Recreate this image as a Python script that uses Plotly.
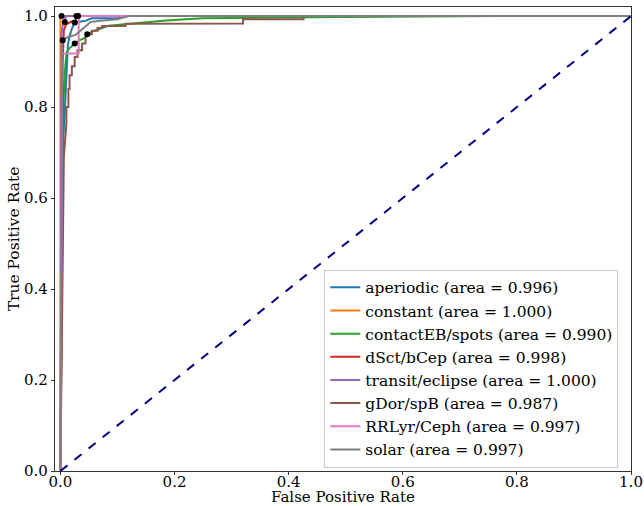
import plotly.graph_objects as go

classes = ["aperiodic", "constant", "contactEB/spots", "dSct/bCep",
           "transit/eclipse", "gDor/spB", "RRLyr/Ceph", "solar"]
areas = [0.996, 1.000, 0.990, 0.998, 1.000, 0.987, 0.997, 0.997]
colors = ["#1f77b4", "#ff7f0e", "#2ca02c", "#d62728",
          "#9467bd", "#8c564b", "#e377c2", "#7f7f7f"]

fpr_aperiodic = [0, 0.002, 0.008, 0.010, 0.012, 0.013, 0.016, 0.020, 0.025, 0.035, 0.045, 0.055, 0.10, 0.11, 1.0]
tpr_aperiodic = [0, 0.66, 0.80, 0.85, 0.90, 0.935, 0.955, 0.972, 0.986, 0.988, 0.990, 0.995, 0.995, 1.0, 1.0]

fpr_constant = [0, 0, 1.0]
tpr_constant = [0, 1.0, 1.0]

fpr_contact = [0, 0.002, 0.004, 0.005, 0.008, 0.0105, 0.015, 0.020, 0.025, 0.030, 0.035, 0.040, 0.045,
               0.050, 0.055, 0.062, 0.070, 0.084, 0.10, 0.12, 0.143, 0.18, 0.22, 0.25, 0.30, 0.36, 0.50, 0.77, 1.0]
tpr_contact = [0, 0.30, 0.60, 0.80, 0.88, 0.92, 0.928, 0.935, 0.940, 0.944, 0.948, 0.950, 0.955,
               0.960, 0.966, 0.969, 0.972, 0.979, 0.981, 0.983, 0.985, 0.990, 0.993, 0.995, 0.996, 0.997, 0.998, 1.0, 1.0]

fpr_dsct = [0, 0.003, 0.004, 0.005, 0.006, 0.010, 0.013, 0.018, 0.020, 0.027, 0.028, 1.0]
tpr_dsct = [0, 0.50, 0.90, 0.95, 0.969, 0.982, 0.984, 0.986, 0.988, 0.990, 1.0, 1.0]

fpr_transit = [0, 0.002, 0.004, 0.010, 1.0]
tpr_transit = [0, 0.96, 0.98, 1.0, 1.0]

fpr_gdor = [0, 0.002, 0.004, 0.006, 0.0105, 0.0105, 0.014, 0.014, 0.016, 0.016, 0.020, 0.020, 0.025, 0.025,
            0.030, 0.030, 0.038, 0.038, 0.044, 0.044, 0.047, 0.055, 0.055, 0.065, 0.065, 0.073, 0.073,
            0.114, 0.114, 0.20, 0.32, 0.32, 0.426, 0.426, 1.0]
tpr_gdor = [0, 0.22, 0.50, 0.69, 0.765, 0.80, 0.80, 0.84, 0.84, 0.87, 0.87, 0.89, 0.89, 0.91,
            0.91, 0.925, 0.925, 0.940, 0.940, 0.952, 0.960, 0.960, 0.968, 0.968, 0.974, 0.974, 0.978,
            0.978, 0.983, 0.984, 0.984, 0.993, 0.993, 1.0, 1.0]

fpr_rrlyr = [0, 0.003, 0.032, 0.032, 1.0]
tpr_rrlyr = [0, 0.918, 0.918, 1.0, 1.0]

fpr_solar = [0, 0.003, 0.015, 0.026, 0.035, 0.044, 0.053, 0.07, 0.10, 0.12, 1.0]
tpr_solar = [0, 0.947, 0.955, 0.958, 0.968, 0.977, 0.987, 0.990, 0.993, 1.0, 1.0]

fprs = [fpr_aperiodic, fpr_constant, fpr_contact, fpr_dsct, fpr_transit, fpr_gdor, fpr_rrlyr, fpr_solar]
tprs = [tpr_aperiodic, tpr_constant, tpr_contact, tpr_dsct, tpr_transit, tpr_gdor, tpr_rrlyr, tpr_solar]

# operating points (black dots)
dot_fpr = [0.025, 0.002, 0.025, 0.028, 0.0076, 0.047, 0.031, 0.004]
dot_tpr = [0.986, 1.0, 0.940, 1.0, 0.987, 0.960, 1.0, 0.947]

chance = [0.0, 1.0]

x_title = "False Positive Rate"
y_title = "True Positive Rate"

FONT = "DejaVu Serif"

fig = go.Figure()
for name, area, col, fx, ty in zip(classes, areas, colors, fprs, tprs):
    fig.add_trace(go.Scatter(x=fx, y=ty, mode="lines",
                             line=dict(color=col, width=2),
                             name=f"{name} (area = {area:.3f})"))

fig.add_trace(go.Scatter(x=chance, y=chance, mode="lines",
                         line=dict(color="navy", width=2, dash="dash"),
                         showlegend=False))
fig.add_trace(go.Scatter(x=dot_fpr, y=dot_tpr, mode="markers",
                         marker=dict(color="black", size=6),
                         showlegend=False))

axis_common = dict(showline=True, linecolor="#333333", linewidth=1.3, mirror=True,
                   ticks="outside", ticklen=3, tickcolor="#333333", showgrid=False,
                   zeroline=False, tickformat=".1f", automargin=False,
                   tickfont=dict(family=FONT, size=15, color="black"))

fig.add_annotation(text=x_title, xref="paper", yref="paper", x=0.5, y=-0.055,
                   xanchor="center", yanchor="middle", showarrow=False,
                   font=dict(family=FONT, size=15, color="black"))

fig.update_layout(
    width=644, height=506,
    margin=dict(l=55, r=13, t=7, b=35),
    paper_bgcolor="white", plot_bgcolor="white",
    font=dict(family=FONT, size=15, color="black"),
    xaxis=dict(range=[-0.0095, 1.0], dtick=0.2, ticklabelstandoff=-6, **axis_common),
    yaxis=dict(range=[0.0, 1.02], dtick=0.2,
               title=dict(text=y_title, font=dict(family=FONT, size=15.5), standoff=0),
               **axis_common),
    legend=dict(x=0.978, y=0.007, xanchor="right", yanchor="bottom",
                bgcolor="rgba(255,255,255,0.8)", bordercolor="#cccccc", borderwidth=1,
                font=dict(family=FONT, size=15.5), itemwidth=30, tracegroupgap=0),
    showlegend=True,
)

fig.write_html("out.html", config={"displayModeBar": False},
               post_script="document.body.style.margin='0px';document.body.style.padding='0px';")
